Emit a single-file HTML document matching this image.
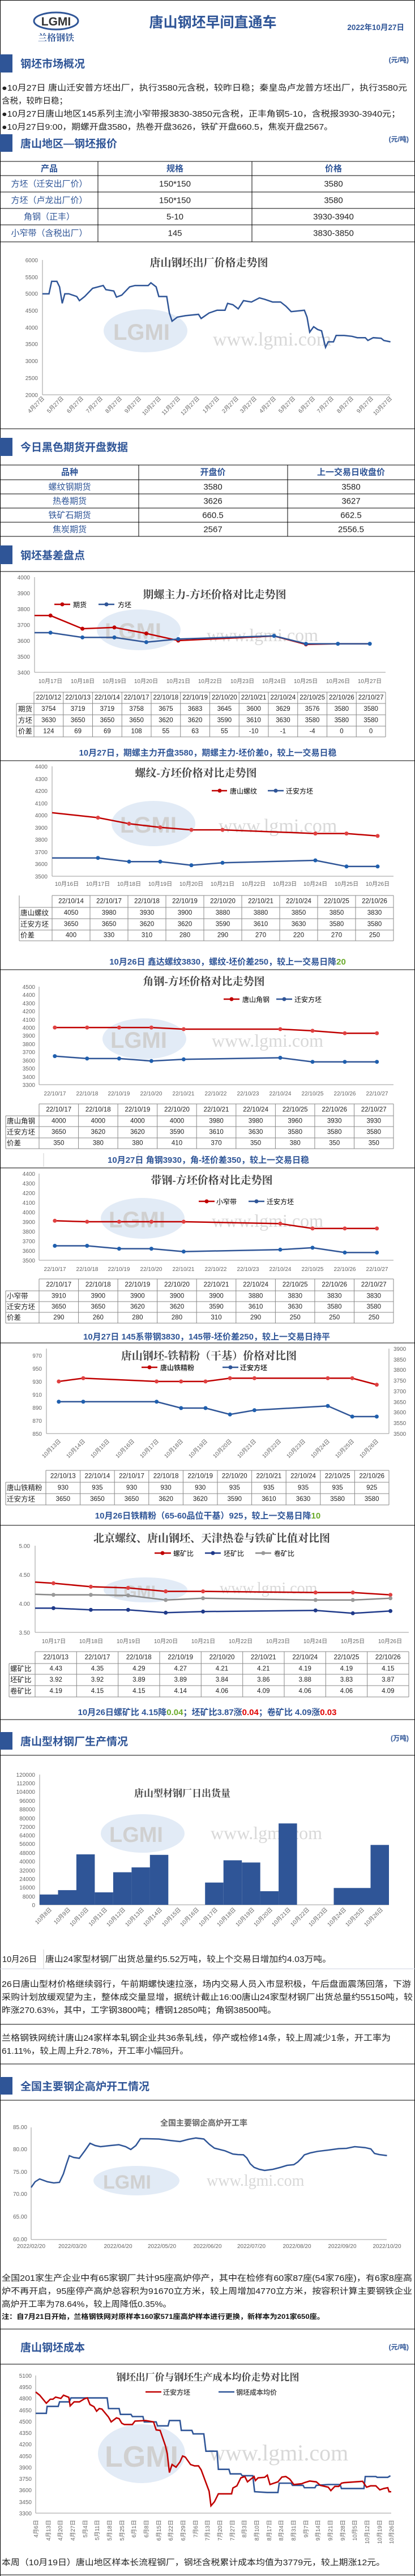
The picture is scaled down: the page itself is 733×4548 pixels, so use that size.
<!DOCTYPE html>
<html><head><meta charset="utf-8"><style>
html,body{margin:0;padding:0;background:#fff}
svg{display:block;font-family:"Liberation Sans","Noto Sans CJK SC",sans-serif}
.ti{font-family:"Liberation Serif","Noto Serif CJK SC",serif;font-weight:bold;fill:#444;text-anchor:middle}
.ax{font-size:10px;fill:#666}
.r{text-anchor:end}
.m{text-anchor:middle}
.tb{font-size:11.5px;fill:#222;text-anchor:middle;dominant-baseline:central}
.tl{font-size:12.5px;fill:#222;dominant-baseline:central}
.sec{font-size:19px;font-weight:bold;fill:#2f5597}
.unit{font-size:12px;font-weight:bold;fill:#2f5597;text-anchor:end}
.sum{font-size:15px;font-weight:bold;fill:#2f5597;text-anchor:middle}
.p{font-size:14.5px;fill:#222}
.g{stroke:#888;stroke-width:1;fill:none}
.tl2{stroke:#999;stroke-width:1}
.rl{fill:none;stroke:#c00000;stroke-width:2.5}
.bl{fill:none;stroke:#2f5597;stroke-width:2.5}
.wm{fill:#d8d8d8;font-family:"Liberation Serif",serif}
.we{fill:#e2ebf6}
.wl{fill:#d0d0d0;font-weight:bold}
</style></head><body>
<svg width="733" height="4548" viewBox="0 0 733 4548" xmlns="http://www.w3.org/2000/svg">
<rect width="733" height="4548" fill="#fff"/>
<g stroke="#000" stroke-width="1">
<line x1="0.5" y1="0" x2="0.5" y2="4548"/><line x1="732.5" y1="0" x2="732.5" y2="4548"/>
<line x1="0" y1="0.5" x2="733" y2="0.5"/>
<line x1="0" y1="757" x2="733" y2="757"/>
<line x1="0" y1="1009" x2="733" y2="1009"/>
<line x1="0" y1="1343" x2="733" y2="1343"/>
<line x1="0" y1="1712" x2="733" y2="1712"/>
<line x1="0" y1="2062" x2="733" y2="2062"/>
<line x1="0" y1="2371" x2="733" y2="2371"/>
<line x1="0" y1="2693" x2="733" y2="2693"/>
<line x1="0" y1="3036" x2="733" y2="3036"/>
<line x1="0" y1="3099" x2="733" y2="3099"/>
<line x1="0" y1="3574" x2="733" y2="3574"/>
<line x1="0" y1="3644" x2="733" y2="3644"/>
<line x1="0" y1="3708" x2="733" y2="3708"/>
<line x1="0" y1="4112" x2="733" y2="4112"/>
<line x1="0" y1="4174" x2="733" y2="4174"/>
<line x1="0" y1="4546" x2="733" y2="4546"/>
</g>

<!-- header -->
<ellipse cx="99" cy="37" rx="39" ry="15" fill="none" stroke="#2f5597" stroke-width="3"/>
<text x="99" y="45" font-size="21" font-weight="bold" fill="#333" text-anchor="middle">LGMI</text>
<text x="99" y="72" font-size="16" font-weight="bold" fill="#2f5597" text-anchor="middle" font-family="Noto Serif CJK SC,serif">兰格钢铁</text>
<text x="376" y="48" font-size="25" font-weight="bold" fill="#2f5597" text-anchor="middle">唐山钢坯早间直通车</text>
<text x="714" y="53" font-size="13.5" font-weight="bold" fill="#2f5597" text-anchor="end">2022年10月27日</text>

<rect x="0" y="96" width="22" height="32" fill="#2f5597"/>
<text class="sec" x="36" y="119">钢坯市场概况</text><text class="unit" x="722" y="110">(元/吨)</text>
<text class="p" x="3" y="160" textLength="716" lengthAdjust="spacingAndGlyphs">●10月27日 唐山迁安普方坯出厂，执行3580元含税，较昨日稳；秦皇岛卢龙普方坯出厂，执行3580元</text>
<text class="p" x="3" y="183">含税，较昨日稳；</text>
<text class="p" x="3" y="206" textLength="704" lengthAdjust="spacingAndGlyphs">●10月27日唐山地区145系列主流小窄带报3830-3850元含税，正丰角钢5-10，含税报3930-3940元；</text>
<text class="p" x="3" y="229" textLength="585" lengthAdjust="spacingAndGlyphs">●10月27日9:00，期螺开盘3580，热卷开盘3626，铁矿开盘660.5，焦炭开盘2567。</text>
<rect x="0" y="237" width="22" height="31" fill="#2f5597"/>
<text class="sec" x="36" y="260">唐山地区—钢坯报价</text><text class="unit" x="722" y="250">(元/吨)</text>

<g stroke="#000" stroke-width="1">
<line x1="0" y1="285" x2="733" y2="285"/><line x1="0" y1="310" x2="733" y2="310"/><line x1="0" y1="339" x2="733" y2="339"/><line x1="0" y1="368" x2="733" y2="368"/><line x1="0" y1="397" x2="733" y2="397"/><line x1="0" y1="427" x2="733" y2="427"/>
<line x1="173" y1="285" x2="173" y2="427"/><line x1="445" y1="285" x2="445" y2="427"/></g>
<g font-size="15" dominant-baseline="central" text-anchor="middle">
<g font-weight="bold" fill="#2f5597"><text x="87" y="298">产品</text><text x="309" y="298">规格</text><text x="589" y="298">价格</text></g>
<g fill="#2f5597"><text x="87" y="325">方坯（迁安出厂价）</text><text x="87" y="354">方坯（卢龙出厂价）</text><text x="87" y="383">角钢（正丰）</text><text x="87" y="412">小窄带（含税出厂）</text></g>
<g fill="#222"><text x="309" y="325">150*150</text><text x="589" y="325">3580</text><text x="309" y="354">150*150</text><text x="589" y="354">3580</text><text x="309" y="383">5-10</text><text x="589" y="383">3930-3940</text><text x="309" y="412">145</text><text x="589" y="412">3830-3850</text></g></g>

<!-- chart 1 -->
<g class="tl2"><line x1="75" y1="459" x2="75" y2="697"/><line x1="75" y1="697" x2="689" y2="697"/></g>
<g class="ax r"><text x="67" y="463">6000</text><text x="67" y="493">5500</text><text x="67" y="522">5000</text><text x="67" y="552">4500</text><text x="67" y="582">4000</text><text x="67" y="611">3500</text><text x="67" y="641">3000</text><text x="67" y="671">2500</text><text x="67" y="701">2000</text></g>
<ellipse class="we" cx="257" cy="584" rx="74" ry="38"/><text class="wl" x="200" y="600" font-size="40">LGMI</text>
<text class="wm" x="376" y="610" font-size="34">www.lgmi.com</text>
<text class="ti" x="369" y="470" font-size="19">唐山钢坯出厂价格走势图</text>
<polyline class="bl" stroke-width="3" points="74.8,518.7 86.5,518.7 91.2,496.8 100.5,496.8 105.2,506.5 109.9,535.6 114.5,518.7 121.6,518.7 135.6,523.5 140.3,530.8 149.6,523.5 159,513.8 163.6,509 182.3,504.1 187,511.4 201,513.8 205.7,524.5 215,521.1 229,506.5 238.4,504.1 261.8,504.1 266.5,499.3 275.8,506.5 280.5,523.5 294.5,523.5 299.2,552.6 303.9,567.1 313.2,559.9 327.3,557.4 350.6,555 355.3,562.3 369.3,552.6 383.4,547.7 397.4,547.7 402,535.6 411.4,538 420.8,545.3 430.1,530.8 444.1,533.2 458.2,525.9 467.5,528.4 481.5,533.2 495.6,533.2 504.9,540.5 514.3,550.2 537.6,547.7 542.3,559.9 547,586.5 554,576.8 561,581.7 568,584.1 575,613.2 579.7,603.5 589,603.5 593.7,592.3 607.8,592.3 621.8,593.8 631.1,596.2 645.2,596.2 649.8,601.1 659.2,596.2 673.2,597.2 677.9,601.1 689.6,603.5"/>
<g class="ax r" font-size="10">
<text transform="translate(79,704) rotate(-45)">4月27日</text><text transform="translate(113,704) rotate(-45)">5月27日</text><text transform="translate(148,704) rotate(-45)">6月27日</text><text transform="translate(182,704) rotate(-45)">7月27日</text><text transform="translate(216,704) rotate(-45)">8月27日</text><text transform="translate(250,704) rotate(-45)">9月27日</text><text transform="translate(285,704) rotate(-45)">10月27日</text><text transform="translate(319,704) rotate(-45)">11月27日</text><text transform="translate(353,704) rotate(-45)">12月27日</text><text transform="translate(388,704) rotate(-45)">1月27日</text><text transform="translate(422,704) rotate(-45)">2月27日</text><text transform="translate(454,704) rotate(-45)">3月27日</text><text transform="translate(488,704) rotate(-45)">4月27日</text><text transform="translate(522,704) rotate(-45)">5月27日</text><text transform="translate(557,704) rotate(-45)">6月27日</text><text transform="translate(590,704) rotate(-45)">7月27日</text><text transform="translate(625,704) rotate(-45)">8月27日</text><text transform="translate(660,704) rotate(-45)">9月27日</text><text transform="translate(693,704) rotate(-45)">10月27日</text></g>

<rect x="0" y="773" width="22" height="32" fill="#2f5597"/>
<text class="sec" x="36" y="796">今日黑色期货开盘数据</text>
<g stroke="#000"><line x1="0" y1="821" x2="733" y2="821"/><line x1="0" y1="847" x2="733" y2="847"/><line x1="0" y1="872" x2="733" y2="872"/><line x1="0" y1="897" x2="733" y2="897"/><line x1="0" y1="922" x2="733" y2="922"/><line x1="0" y1="947" x2="733" y2="947"/><line x1="245" y1="821" x2="245" y2="947"/><line x1="508" y1="821" x2="508" y2="947"/></g>
<g font-size="15" dominant-baseline="central" text-anchor="middle">
<g font-weight="bold" fill="#2f5597"><text x="123" y="834">品种</text><text x="376" y="834">开盘价</text><text x="620" y="834">上一交易日收盘价</text></g>
<g fill="#2f5597"><text x="123" y="860">螺纹钢期货</text><text x="123" y="885">热卷期货</text><text x="123" y="910">铁矿石期货</text><text x="123" y="935">焦炭期货</text></g>
<g fill="#222"><text x="376" y="860">3580</text><text x="620" y="860">3580</text><text x="376" y="885">3626</text><text x="620" y="885">3627</text><text x="376" y="910">660.5</text><text x="620" y="910">662.5</text><text x="376" y="935">2567</text><text x="620" y="935">2556.5</text></g></g>
<rect x="0" y="963" width="22" height="33" fill="#2f5597"/>
<text class="sec" x="36" y="987">钢坯基差盘点</text>

<!-- chart 2 -->
<g class="tl2"><line x1="61" y1="1019" x2="61" y2="1187"/><line x1="61" y1="1187" x2="681" y2="1187"/></g>
<g class="ax r"><text x="53" y="1023">4000</text><text x="53" y="1051">3900</text><text x="53" y="1079">3800</text><text x="53" y="1107">3700</text><text x="53" y="1135">3600</text><text x="53" y="1163">3500</text><text x="53" y="1191">3400</text></g>
<ellipse class="we" cx="245" cy="1112" rx="74" ry="36"/><text class="wl" x="185" y="1128" font-size="40">LGMI</text>
<text class="wm" x="365" y="1132" font-size="32">www.lgmi.com</text>
<text class="ti" x="379" y="1056" font-size="19">期螺主力-方坯价格对比走势图</text>
<line x1="96" y1="1067" x2="124" y2="1067" stroke="#c00000" stroke-width="2.5"/><circle cx="110" cy="1067" r="3.5" fill="#c00000"/><text x="129" y="1072" font-size="12">期货</text>
<line x1="174" y1="1067" x2="202" y2="1067" stroke="#2f5597" stroke-width="2.5"/><circle cx="188" cy="1067" r="3.5" fill="#2f5597"/><text x="208" y="1072" font-size="12">方坯</text>
<polyline class="rl" points="61,1086.8 89.2,1086.8 145.6,1110 202,1107.8 258.4,1118.4 314.8,1131 484,1122.9 540.4,1137.7 596.8,1136.6 653.2,1136.6"/>
<polyline class="bl" points="61,1117 89.2,1117 145.6,1125.4 202,1125.4 258.4,1133.8 314.8,1128.2 484,1122.6 540.4,1136.6 596.8,1136.6 653.2,1136.6"/>
<g fill="#c00000"><circle cx="89.2" cy="1086.8" r="3.5"/><circle cx="145.6" cy="1110" r="3.5"/><circle cx="202" cy="1107.8" r="3.5"/><circle cx="258.4" cy="1118.4" r="3.5"/><circle cx="314.8" cy="1131" r="3.5"/><circle cx="540.4" cy="1137.7" r="3.5"/></g>
<g fill="#1f5fae"><circle cx="89.2" cy="1117" r="3.5"/><circle cx="145.6" cy="1125.4" r="3.5"/><circle cx="202" cy="1125.4" r="3.5"/><circle cx="258.4" cy="1133.8" r="3.5"/><circle cx="314.8" cy="1128.2" r="3.5"/><circle cx="484" cy="1122.6" r="3.5"/><circle cx="540.4" cy="1136.6" r="3.5"/><circle cx="596.8" cy="1136.6" r="3.5"/><circle cx="653.2" cy="1136.6" r="3.5"/></g>
<g class="ax m" font-size="11"><text x="89" y="1206">10月17日</text><text x="146" y="1206">10月18日</text><text x="202" y="1206">10月19日</text><text x="258" y="1206">10月20日</text><text x="315" y="1206">10月21日</text><text x="371" y="1206">10月22日</text><text x="428" y="1206">10月23日</text><text x="484" y="1206">10月24日</text><text x="540" y="1206">10月25日</text><text x="597" y="1206">10月26日</text><text x="653" y="1206">10月27日</text></g>
<g class="g"><path d="M60 1222H681M29 1242H681M29 1262H681M29 1282H681M29 1301H681M29 1242V1301M60 1222V1301M111.75 1222V1301M163.5 1222V1301M215.25 1222V1301M267 1222V1301M318.75 1222V1301M370.5 1222V1301M422.25 1222V1301M474 1222V1301M525.75 1222V1301M577.5 1222V1301M629.25 1222V1301M681 1222V1301"/></g>
<g class="tb" font-size="11"><text x="85.9" y="1232">22/10/12</text><text x="137.6" y="1232">22/10/13</text><text x="189.4" y="1232">22/10/14</text><text x="241.1" y="1232">22/10/17</text><text x="292.9" y="1232">22/10/18</text><text x="344.6" y="1232">22/10/19</text><text x="396.4" y="1232">22/10/20</text><text x="448.1" y="1232">22/10/21</text><text x="499.9" y="1232">22/10/24</text><text x="551.6" y="1232">22/10/25</text><text x="603.4" y="1232">22/10/26</text><text x="655.1" y="1232">22/10/27</text>
<text x="85.9" y="1252">3754</text><text x="137.6" y="1252">3719</text><text x="189.4" y="1252">3719</text><text x="241.1" y="1252">3758</text><text x="292.9" y="1252">3675</text><text x="344.6" y="1252">3683</text><text x="396.4" y="1252">3645</text><text x="448.1" y="1252">3600</text><text x="499.9" y="1252">3629</text><text x="551.6" y="1252">3576</text><text x="603.4" y="1252">3580</text><text x="655.1" y="1252">3580</text>
<text x="85.9" y="1272">3630</text><text x="137.6" y="1272">3650</text><text x="189.4" y="1272">3650</text><text x="241.1" y="1272">3650</text><text x="292.9" y="1272">3620</text><text x="344.6" y="1272">3620</text><text x="396.4" y="1272">3590</text><text x="448.1" y="1272">3610</text><text x="499.9" y="1272">3630</text><text x="551.6" y="1272">3580</text><text x="603.4" y="1272">3580</text><text x="655.1" y="1272">3580</text>
<text x="85.9" y="1291.5">124</text><text x="137.6" y="1291.5">69</text><text x="189.4" y="1291.5">69</text><text x="241.1" y="1291.5">108</text><text x="292.9" y="1291.5">55</text><text x="344.6" y="1291.5">63</text><text x="396.4" y="1291.5">55</text><text x="448.1" y="1291.5">-10</text><text x="499.9" y="1291.5">-1</text><text x="551.6" y="1291.5">-4</text><text x="603.4" y="1291.5">0</text><text x="655.1" y="1291.5">0</text></g>
<g class="tl"><text x="32" y="1252">期货</text><text x="32" y="1272">方坯</text><text x="32" y="1291.5">价差</text></g>
<text class="sum" x="367" y="1334">10月27日，期螺主力开盘3580，期螺主力-坯价差0，较上一交易日稳</text>

<!-- chart 3 -->
<g class="tl2"><line x1="92" y1="1353" x2="92" y2="1547"/><line x1="92" y1="1547" x2="695" y2="1547"/></g>
<g class="ax r"><text x="84" y="1357">4400</text><text x="84" y="1379">4300</text><text x="84" y="1400">4200</text><text x="84" y="1422">4100</text><text x="84" y="1443">4000</text><text x="84" y="1465">3900</text><text x="84" y="1486">3800</text><text x="84" y="1508">3700</text><text x="84" y="1529">3600</text><text x="84" y="1551">3500</text></g>
<ellipse class="we" cx="271" cy="1454" rx="74" ry="40"/><text class="wl" x="212" y="1470" font-size="40">LGMI</text>
<text class="wm" x="386" y="1469" font-size="34">www.lgmi.com</text>
<text class="ti" x="346" y="1371" font-size="19">螺纹-方坯价格对比走势图</text>
<line x1="374" y1="1396" x2="401" y2="1396" stroke="#c00000" stroke-width="2.5"/><circle cx="388" cy="1396" r="3.5" fill="#c00000"/><text x="406" y="1401" font-size="12">唐山螺纹</text>
<line x1="473" y1="1396" x2="501" y2="1396" stroke="#2f5597" stroke-width="2.5"/><circle cx="487" cy="1396" r="3.5" fill="#2f5597"/><text x="505" y="1401" font-size="12">迁安方坯</text>
<polyline class="rl" points="92,1434.9 173,1443.6 228,1454.3 283,1460.8 338,1465.1 393,1465.1 557,1471.6 612,1471.6 667,1475.9"/>
<polyline class="bl" points="92,1514.7 173,1514.7 228,1521.2 283,1521.2 338,1527.6 393,1523.3 557,1519 612,1529.8 667,1529.8"/>
<g fill="#e04040"><circle cx="173" cy="1443.6" r="3.5"/><circle cx="228" cy="1454.3" r="3.5"/><circle cx="283" cy="1460.8" r="3.5"/><circle cx="338" cy="1465.1" r="3.5"/><circle cx="393" cy="1465.1" r="3.5"/><circle cx="557" cy="1471.6" r="3.5"/><circle cx="612" cy="1471.6" r="3.5"/><circle cx="667" cy="1475.9" r="3.5"/></g>
<g fill="#1f5fae"><circle cx="173" cy="1514.7" r="3.5"/><circle cx="228" cy="1521.2" r="3.5"/><circle cx="283" cy="1521.2" r="3.5"/><circle cx="338" cy="1527.6" r="3.5"/><circle cx="393" cy="1523.3" r="3.5"/><circle cx="557" cy="1519" r="3.5"/><circle cx="612" cy="1529.8" r="3.5"/><circle cx="667" cy="1529.8" r="3.5"/></g>
<g class="ax m" font-size="11"><text x="118" y="1564">10月16日</text><text x="173" y="1564">10月17日</text><text x="228" y="1564">10月18日</text><text x="283" y="1564">10月19日</text><text x="338" y="1564">10月20日</text><text x="393" y="1564">10月21日</text><text x="448" y="1564">10月22日</text><text x="503" y="1564">10月23日</text><text x="557" y="1564">10月24日</text><text x="612" y="1564">10月25日</text><text x="667" y="1564">10月26日</text></g>
<g class="g"><path d="M92 1581H695M34 1602H695M34 1622H695M34 1642H695M34 1661H695M34 1581V1661M92 1581V1661M159 1581V1661M226 1581V1661M293 1581V1661M360 1581V1661M427 1581V1661M494 1581V1661M561 1581V1661M628 1581V1661M695 1581V1661"/></g>
<g class="tb"><text x="125.5" y="1591.5">22/10/14</text><text x="192.5" y="1591.5">22/10/17</text><text x="259.5" y="1591.5">22/10/18</text><text x="326.5" y="1591.5">22/10/19</text><text x="393.5" y="1591.5">22/10/20</text><text x="460.5" y="1591.5">22/10/21</text><text x="527.5" y="1591.5">22/10/24</text><text x="594.5" y="1591.5">22/10/25</text><text x="661.5" y="1591.5">22/10/26</text>
<text x="125.5" y="1612">4050</text><text x="192.5" y="1612">3980</text><text x="259.5" y="1612">3930</text><text x="326.5" y="1612">3900</text><text x="393.5" y="1612">3880</text><text x="460.5" y="1612">3880</text><text x="527.5" y="1612">3850</text><text x="594.5" y="1612">3850</text><text x="661.5" y="1612">3830</text>
<text x="125.5" y="1632">3650</text><text x="192.5" y="1632">3650</text><text x="259.5" y="1632">3620</text><text x="326.5" y="1632">3620</text><text x="393.5" y="1632">3590</text><text x="460.5" y="1632">3610</text><text x="527.5" y="1632">3630</text><text x="594.5" y="1632">3580</text><text x="661.5" y="1632">3580</text>
<text x="125.5" y="1651.5">400</text><text x="192.5" y="1651.5">330</text><text x="259.5" y="1651.5">310</text><text x="326.5" y="1651.5">280</text><text x="393.5" y="1651.5">290</text><text x="460.5" y="1651.5">270</text><text x="527.5" y="1651.5">220</text><text x="594.5" y="1651.5">270</text><text x="661.5" y="1651.5">250</text></g>
<g class="tl"><text x="36" y="1612">唐山螺纹</text><text x="36" y="1632">迁安方坯</text><text x="36" y="1651.5">价差</text></g>
<text class="sum" x="402" y="1703">10月26日 鑫达螺纹3830，螺纹-坯价差250，较上一交易日降<tspan fill="#6aaa2a">20</tspan></text>

<!-- chart 4 -->
<text class="ti" x="360" y="1739" font-size="19">角钢-方坯价格对比走势图</text>
<g class="tl2"><line x1="69" y1="1742" x2="69" y2="1915"/><line x1="69" y1="1915" x2="695" y2="1915"/></g>
<g class="ax r"><text x="62" y="1746">4500</text><text x="62" y="1760">4400</text><text x="62" y="1775">4300</text><text x="62" y="1789">4200</text><text x="62" y="1804">4100</text><text x="62" y="1818">4000</text><text x="62" y="1832">3900</text><text x="62" y="1847">3800</text><text x="62" y="1861">3700</text><text x="62" y="1876">3600</text><text x="62" y="1890">3500</text><text x="62" y="1905">3400</text><text x="62" y="1919">3300</text></g>
<ellipse class="we" cx="255" cy="1834" rx="74" ry="36"/><text class="wl" x="195" y="1850" font-size="40">LGMI</text>
<text class="wm" x="374" y="1848" font-size="32">www.lgmi.com</text>
<line x1="395" y1="1764" x2="423" y2="1764" stroke="#c00000" stroke-width="2.5"/><circle cx="409" cy="1764" r="3.5" fill="#c00000"/><text x="428" y="1769" font-size="12">唐山角钢</text>
<line x1="488" y1="1764" x2="516" y2="1764" stroke="#2f5597" stroke-width="2.5"/><circle cx="502" cy="1764" r="3.5" fill="#2f5597"/><text x="520" y="1769" font-size="12">迁安方坯</text>
<polyline class="rl" points="96.8,1814.1 153.8,1814.1 210.4,1814.1 267.4,1814.1 324.4,1817 495,1817 552,1819.9 609,1824.2 665.7,1824.2"/>
<polyline class="bl" points="96.8,1864.6 153.8,1868.9 210.4,1868.9 267.4,1873.2 324.4,1870.3 495,1867.5 552,1874.7 609,1874.7 665.7,1874.7"/>
<g fill="#e04040"><circle cx="96.8" cy="1814.1" r="3.5"/><circle cx="153.8" cy="1814.1" r="3.5"/><circle cx="210.4" cy="1814.1" r="3.5"/><circle cx="267.4" cy="1814.1" r="3.5"/><circle cx="324.4" cy="1817" r="3.5"/><circle cx="495" cy="1817" r="3.5"/><circle cx="552" cy="1819.9" r="3.5"/><circle cx="609" cy="1824.2" r="3.5"/><circle cx="665.7" cy="1824.2" r="3.5"/></g>
<g fill="#1f5fae"><circle cx="96.8" cy="1864.6" r="3.5"/><circle cx="153.8" cy="1868.9" r="3.5"/><circle cx="210.4" cy="1868.9" r="3.5"/><circle cx="267.4" cy="1873.2" r="3.5"/><circle cx="324.4" cy="1870.3" r="3.5"/><circle cx="495" cy="1867.5" r="3.5"/><circle cx="552" cy="1874.7" r="3.5"/><circle cx="609" cy="1874.7" r="3.5"/><circle cx="665.7" cy="1874.7" r="3.5"/></g>
<g class="ax m" font-size="11"><text x="97" y="1934">22/10/17</text><text x="154" y="1934">22/10/18</text><text x="210" y="1934">22/10/19</text><text x="267" y="1934">22/10/20</text><text x="324" y="1934">22/10/21</text><text x="381" y="1934">22/10/22</text><text x="438" y="1934">22/10/23</text><text x="495" y="1934">22/10/24</text><text x="552" y="1934">22/10/25</text><text x="609" y="1934">22/10/26</text><text x="666" y="1934">22/10/27</text></g>
<g class="g"><path d="M69 1949H695M10 1970H695M10 1989H695M10 2009H695M10 2028H695M10 1970V2028M69 1949V2028M138.6 1949V2028M208.1 1949V2028M277.7 1949V2028M347.2 1949V2028M416.8 1949V2028M486.4 1949V2028M555.9 1949V2028M625.5 1949V2028M695 1949V2028"/></g>
<g class="tb"><text x="103.8" y="1959.5">22/10/17</text><text x="173.3" y="1959.5">22/10/18</text><text x="242.9" y="1959.5">22/10/19</text><text x="312.5" y="1959.5">22/10/20</text><text x="382" y="1959.5">22/10/21</text><text x="451.6" y="1959.5">22/10/24</text><text x="521.2" y="1959.5">22/10/25</text><text x="590.7" y="1959.5">22/10/26</text><text x="660.3" y="1959.5">22/10/27</text>
<text x="103.8" y="1979.5">4000</text><text x="173.3" y="1979.5">4000</text><text x="242.9" y="1979.5">4000</text><text x="312.5" y="1979.5">4000</text><text x="382" y="1979.5">3980</text><text x="451.6" y="1979.5">3980</text><text x="521.2" y="1979.5">3960</text><text x="590.7" y="1979.5">3930</text><text x="660.3" y="1979.5">3930</text>
<text x="103.8" y="1999">3650</text><text x="173.3" y="1999">3620</text><text x="242.9" y="1999">3620</text><text x="312.5" y="1999">3590</text><text x="382" y="1999">3610</text><text x="451.6" y="1999">3630</text><text x="521.2" y="1999">3580</text><text x="590.7" y="1999">3580</text><text x="660.3" y="1999">3580</text>
<text x="103.8" y="2018.5">350</text><text x="173.3" y="2018.5">380</text><text x="242.9" y="2018.5">380</text><text x="312.5" y="2018.5">410</text><text x="382" y="2018.5">370</text><text x="451.6" y="2018.5">350</text><text x="521.2" y="2018.5">380</text><text x="590.7" y="2018.5">350</text><text x="660.3" y="2018.5">350</text></g>
<g class="tl"><text x="12" y="1979.5">唐山角钢</text><text x="12" y="1999">迁安方坯</text><text x="12" y="2018.5">价差</text></g>
<line x1="77" y1="2036" x2="77" y2="2060" stroke="#ccc"/><line x1="244" y1="2036" x2="244" y2="2060" stroke="#ccc"/>
<text class="sum" x="368" y="2053">10月27日  角钢3930，角-坯价差350，较上一交易日稳</text>

<!-- chart 5 -->
<text class="ti" x="374" y="2090" font-size="19">带钢-方坯价格对比走势图</text>
<g class="tl2"><line x1="69" y1="2072" x2="69" y2="2225"/><line x1="69" y1="2225" x2="695" y2="2225"/></g>
<g class="ax r"><text x="62" y="2076">4400</text><text x="62" y="2093">4300</text><text x="62" y="2110">4200</text><text x="62" y="2127">4100</text><text x="62" y="2144">4000</text><text x="62" y="2161">3900</text><text x="62" y="2178">3800</text><text x="62" y="2195">3700</text><text x="62" y="2212">3600</text><text x="62" y="2229">3500</text></g>
<ellipse class="we" cx="252" cy="2151" rx="74" ry="36"/><text class="wl" x="192" y="2167" font-size="40">LGMI</text>
<text class="wm" x="374" y="2166" font-size="32">www.lgmi.com</text>
<line x1="351" y1="2121" x2="379" y2="2121" stroke="#c00000" stroke-width="2.5"/><circle cx="365" cy="2121" r="3.5" fill="#c00000"/><text x="382" y="2126" font-size="12">小窄带</text>
<line x1="439" y1="2121" x2="467" y2="2121" stroke="#2f5597" stroke-width="2.5"/><circle cx="453" cy="2121" r="3.5" fill="#2f5597"/><text x="471" y="2126" font-size="12">迁安方坯</text>
<polyline class="rl" points="96.8,2155.3 153.8,2157 210.4,2157 267.4,2157 324.4,2157 495,2160.4 552,2168.9 609,2168.9 665.7,2168.9"/>
<polyline class="bl" points="96.8,2199.5 153.8,2199.5 210.4,2204.6 267.4,2204.6 324.4,2209.7 495,2206.3 552,2202.9 609,2211.4 665.7,2211.4"/>
<g fill="#e04040"><circle cx="96.8" cy="2155.3" r="3.5"/><circle cx="153.8" cy="2157" r="3.5"/><circle cx="210.4" cy="2157" r="3.5"/><circle cx="267.4" cy="2157" r="3.5"/><circle cx="324.4" cy="2157" r="3.5"/><circle cx="495" cy="2160.4" r="3.5"/><circle cx="552" cy="2168.9" r="3.5"/><circle cx="609" cy="2168.9" r="3.5"/><circle cx="665.7" cy="2168.9" r="3.5"/></g>
<g fill="#1f5fae"><circle cx="96.8" cy="2199.5" r="3.5"/><circle cx="153.8" cy="2199.5" r="3.5"/><circle cx="210.4" cy="2204.6" r="3.5"/><circle cx="267.4" cy="2204.6" r="3.5"/><circle cx="324.4" cy="2209.7" r="3.5"/><circle cx="495" cy="2206.3" r="3.5"/><circle cx="552" cy="2202.9" r="3.5"/><circle cx="609" cy="2211.4" r="3.5"/><circle cx="665.7" cy="2211.4" r="3.5"/></g>
<g class="ax m" font-size="11"><text x="97" y="2244">22/10/17</text><text x="154" y="2244">22/10/18</text><text x="210" y="2244">22/10/19</text><text x="267" y="2244">22/10/20</text><text x="324" y="2244">22/10/21</text><text x="381" y="2244">22/10/22</text><text x="438" y="2244">22/10/23</text><text x="495" y="2244">22/10/24</text><text x="552" y="2244">22/10/25</text><text x="609" y="2244">22/10/26</text><text x="666" y="2244">22/10/27</text></g>
<g class="g"><path d="M69 2258H695M10 2279H695M10 2298H695M10 2317H695M10 2336H695M10 2279V2336M69 2258V2336M138.6 2258V2336M208.1 2258V2336M277.7 2258V2336M347.2 2258V2336M416.8 2258V2336M486.4 2258V2336M555.9 2258V2336M625.5 2258V2336M695 2258V2336"/></g>
<g class="tb"><text x="103.8" y="2268.5">22/10/17</text><text x="173.3" y="2268.5">22/10/18</text><text x="242.9" y="2268.5">22/10/19</text><text x="312.5" y="2268.5">22/10/20</text><text x="382" y="2268.5">22/10/21</text><text x="451.6" y="2268.5">22/10/24</text><text x="521.2" y="2268.5">22/10/25</text><text x="590.7" y="2268.5">22/10/26</text><text x="660.3" y="2268.5">22/10/27</text>
<text x="103.8" y="2288.5">3910</text><text x="173.3" y="2288.5">3900</text><text x="242.9" y="2288.5">3900</text><text x="312.5" y="2288.5">3900</text><text x="382" y="2288.5">3900</text><text x="451.6" y="2288.5">3880</text><text x="521.2" y="2288.5">3830</text><text x="590.7" y="2288.5">3830</text><text x="660.3" y="2288.5">3830</text>
<text x="103.8" y="2307.5">3650</text><text x="173.3" y="2307.5">3650</text><text x="242.9" y="2307.5">3620</text><text x="312.5" y="2307.5">3620</text><text x="382" y="2307.5">3590</text><text x="451.6" y="2307.5">3610</text><text x="521.2" y="2307.5">3630</text><text x="590.7" y="2307.5">3580</text><text x="660.3" y="2307.5">3580</text>
<text x="103.8" y="2326.5">290</text><text x="173.3" y="2326.5">260</text><text x="242.9" y="2326.5">280</text><text x="312.5" y="2326.5">280</text><text x="382" y="2326.5">310</text><text x="451.6" y="2326.5">290</text><text x="521.2" y="2326.5">250</text><text x="590.7" y="2326.5">250</text><text x="660.3" y="2326.5">250</text></g>
<g class="tl"><text x="12" y="2288.5">小窄带</text><text x="12" y="2307.5">迁安方坯</text><text x="12" y="2326.5">价差</text></g>
<text class="sum" x="365" y="2365">10月27日 145系带钢3830，145带-坯价差250，较上一交易日持平</text>

<!-- chart 6 -->
<text class="ti" x="369" y="2400" font-size="19">唐山钢坯-铁精粉（干基）价格对比图</text>
<g class="tl2"><line x1="82" y1="2381" x2="82" y2="2531"/><line x1="82" y1="2531" x2="687" y2="2531"/><line x1="687" y1="2381" x2="687" y2="2531"/></g>
<g class="ax r"><text x="74" y="2397">970</text><text x="74" y="2420">950</text><text x="74" y="2443">930</text><text x="74" y="2466">910</text><text x="74" y="2489">890</text><text x="74" y="2512">870</text><text x="74" y="2535">850</text></g>
<g class="ax"><text x="695" y="2385">3900</text><text x="695" y="2404">3850</text><text x="695" y="2422">3800</text><text x="695" y="2441">3750</text><text x="695" y="2460">3700</text><text x="695" y="2479">3650</text><text x="695" y="2497">3600</text><text x="695" y="2516">3550</text><text x="695" y="2535">3500</text></g>
<line x1="250" y1="2414" x2="278" y2="2414" stroke="#c00000" stroke-width="2.5"/><circle cx="264" cy="2414" r="3.5" fill="#c00000"/><text x="283" y="2419" font-size="12" font-weight="bold" fill="#333">唐山铁精粉</text>
<line x1="393" y1="2414" x2="421" y2="2414" stroke="#2f5597" stroke-width="2.5"/><circle cx="407" cy="2414" r="3.5" fill="#2f5597"/><text x="424" y="2419" font-size="12" font-weight="bold" fill="#333">迁安方坯</text>
<polyline class="rl" points="103.8,2439 147,2433.25 276.6,2439 319.8,2439 363,2439 406.2,2433.25 449.4,2433.25 579,2433.25 622.2,2433.25 665.4,2444.75"/>
<polyline class="bl" points="103.8,2474.75 147,2474.75 276.6,2474.75 319.8,2486 363,2486 406.2,2497.25 449.4,2489.75 579,2482.25 622.2,2501 665.4,2501"/>
<g fill="#e04040"><circle cx="103.8" cy="2439" r="3.5"/><circle cx="147" cy="2433.25" r="3.5"/><circle cx="276.6" cy="2439" r="3.5"/><circle cx="319.8" cy="2439" r="3.5"/><circle cx="363" cy="2439" r="3.5"/><circle cx="406.2" cy="2433.25" r="3.5"/><circle cx="449.4" cy="2433.25" r="3.5"/><circle cx="579" cy="2433.25" r="3.5"/><circle cx="622.2" cy="2433.25" r="3.5"/><circle cx="665.4" cy="2444.75" r="3.5"/></g>
<g fill="#1f5fae"><circle cx="103.8" cy="2474.75" r="3.5"/><circle cx="147" cy="2474.75" r="3.5"/><circle cx="276.6" cy="2474.75" r="3.5"/><circle cx="319.8" cy="2486" r="3.5"/><circle cx="363" cy="2486" r="3.5"/><circle cx="406.2" cy="2497.25" r="3.5"/><circle cx="449.4" cy="2489.75" r="3.5"/><circle cx="579" cy="2482.25" r="3.5"/><circle cx="622.2" cy="2501" r="3.5"/><circle cx="665.4" cy="2501" r="3.5"/></g>
<g class="ax r" font-size="10"><text transform="translate(108,2545) rotate(-45)">10月13日</text><text transform="translate(151,2545) rotate(-45)">10月14日</text><text transform="translate(194,2545) rotate(-45)">10月15日</text><text transform="translate(238,2545) rotate(-45)">10月16日</text><text transform="translate(281,2545) rotate(-45)">10月17日</text><text transform="translate(324,2545) rotate(-45)">10月18日</text><text transform="translate(367,2545) rotate(-45)">10月19日</text><text transform="translate(410,2545) rotate(-45)">10月20日</text><text transform="translate(453,2545) rotate(-45)">10月21日</text><text transform="translate(497,2545) rotate(-45)">10月22日</text><text transform="translate(540,2545) rotate(-45)">10月23日</text><text transform="translate(583,2545) rotate(-45)">10月24日</text><text transform="translate(626,2545) rotate(-45)">10月25日</text><text transform="translate(669,2545) rotate(-45)">10月26日</text></g>
<g class="g"><path d="M81 2596H687M10 2617H687M10 2637H687M10 2657H687M10 2617V2657M81 2596V2657M141.6 2596V2657M202.2 2596V2657M262.8 2596V2657M323.4 2596V2657M384 2596V2657M444.6 2596V2657M505.2 2596V2657M565.8 2596V2657M626.4 2596V2657M687 2596V2657"/></g>
<g class="tb"><text x="111.3" y="2606.5">22/10/13</text><text x="171.9" y="2606.5">22/10/14</text><text x="232.5" y="2606.5">22/10/17</text><text x="293.1" y="2606.5">22/10/18</text><text x="353.7" y="2606.5">22/10/19</text><text x="414.3" y="2606.5">22/10/20</text><text x="474.9" y="2606.5">22/10/21</text><text x="535.5" y="2606.5">22/10/24</text><text x="596.1" y="2606.5">22/10/25</text><text x="656.7" y="2606.5">22/10/26</text>
<text x="111.3" y="2627">930</text><text x="171.9" y="2627">935</text><text x="232.5" y="2627">930</text><text x="293.1" y="2627">930</text><text x="353.7" y="2627">930</text><text x="414.3" y="2627">935</text><text x="474.9" y="2627">935</text><text x="535.5" y="2627">935</text><text x="596.1" y="2627">935</text><text x="656.7" y="2627">925</text>
<text x="111.3" y="2647">3650</text><text x="171.9" y="2647">3650</text><text x="232.5" y="2647">3650</text><text x="293.1" y="2647">3620</text><text x="353.7" y="2647">3620</text><text x="414.3" y="2647">3590</text><text x="474.9" y="2647">3610</text><text x="535.5" y="2647">3630</text><text x="596.1" y="2647">3580</text><text x="656.7" y="2647">3580</text></g>
<g class="tl"><text x="12" y="2627">唐山铁精粉</text><text x="12" y="2647">迁安方坯</text></g>
<text class="sum" x="367" y="2681">10月26日铁精粉（65-60品位干基）925，较上一交易日降<tspan fill="#6aaa2a">10</tspan></text>

<!-- chart 7 -->
<text class="ti" x="374" y="2722" font-size="19">北京螺纹、唐山钢坯、天津热卷与铁矿比值对比图</text>
<g class="tl2"><line x1="62" y1="2729" x2="62" y2="2882"/><line x1="62" y1="2882" x2="722" y2="2882"/></g>
<g class="ax r"><text x="53" y="2733">5.00</text><text x="53" y="2784">4.50</text><text x="53" y="2835">4.00</text><text x="53" y="2886">3.50</text></g>
<ellipse class="we" cx="257" cy="2807" rx="74" ry="22"/><text class="wl" x="200" y="2820" font-size="30">LGMI</text>
<text class="wm" x="388" y="2813" font-size="28">www.lgmi.com</text>
<line x1="273" y1="2742" x2="302" y2="2742" stroke="#c00000" stroke-width="2.5"/><circle cx="287" cy="2742" r="3.5" fill="#c00000"/><text x="306" y="2747" font-size="12">螺矿比</text>
<line x1="362" y1="2742" x2="390" y2="2742" stroke="#1f3a8a" stroke-width="2.5"/><circle cx="376" cy="2742" r="3.5" fill="#1f3a8a"/><text x="395" y="2747" font-size="12">坯矿比</text>
<line x1="451" y1="2742" x2="479" y2="2742" stroke="#888" stroke-width="2.5"/><circle cx="465" cy="2742" r="3.5" fill="#999"/><text x="484" y="2747" font-size="12">卷矿比</text>
<polyline class="rl" points="62,2793.3 94.4,2795.3 160.4,2801.4 226.3,2803.5 292.7,2809.6 358.6,2809.6 557.3,2811.6 623.2,2811.6 689.6,2815.7"/>
<polyline fill="none" stroke="#888" stroke-width="2.5" points="62,2814.7 94.4,2815.7 160.4,2815.7 226.3,2816.7 292.7,2824.9 358.6,2821.8 557.3,2824.9 623.2,2824.9 689.6,2821.8"/>
<polyline fill="none" stroke="#1f3a8a" stroke-width="2.5" points="62,2839.2 94.4,2839.2 160.4,2842.2 226.3,2842.2 292.7,2847.3 358.6,2845.3 557.3,2843.2 623.2,2848.3 689.6,2844.3"/>
<g fill="#e04040"><circle cx="94.4" cy="2795.3" r="3.5"/><circle cx="160.4" cy="2801.4" r="3.5"/><circle cx="226.3" cy="2803.5" r="3.5"/><circle cx="292.7" cy="2809.6" r="3.5"/><circle cx="358.6" cy="2809.6" r="3.5"/><circle cx="557.3" cy="2811.6" r="3.5"/><circle cx="623.2" cy="2811.6" r="3.5"/><circle cx="689.6" cy="2815.7" r="3.5"/></g>
<g fill="#999"><circle cx="94.4" cy="2815.7" r="3.5"/><circle cx="160.4" cy="2815.7" r="3.5"/><circle cx="226.3" cy="2816.7" r="3.5"/><circle cx="292.7" cy="2824.9" r="3.5"/><circle cx="358.6" cy="2821.8" r="3.5"/><circle cx="557.3" cy="2824.9" r="3.5"/><circle cx="623.2" cy="2824.9" r="3.5"/><circle cx="689.6" cy="2821.8" r="3.5"/></g>
<g fill="#1f3a8a"><circle cx="94.4" cy="2839.2" r="3.5"/><circle cx="160.4" cy="2842.2" r="3.5"/><circle cx="226.3" cy="2842.2" r="3.5"/><circle cx="292.7" cy="2847.3" r="3.5"/><circle cx="358.6" cy="2845.3" r="3.5"/><circle cx="557.3" cy="2843.2" r="3.5"/><circle cx="623.2" cy="2848.3" r="3.5"/><circle cx="689.6" cy="2844.3" r="3.5"/></g>
<g class="ax m" font-size="11"><text x="95" y="2901">10月17日</text><text x="161" y="2901">10月18日</text><text x="227" y="2901">10月19日</text><text x="293" y="2901">10月20日</text><text x="359" y="2901">10月21日</text><text x="425" y="2901">10月22日</text><text x="491" y="2901">10月23日</text><text x="557" y="2901">10月24日</text><text x="623" y="2901">10月25日</text><text x="689" y="2901">10月26日</text></g>
<g class="g"><path d="M62 2916H722M16 2937H722M16 2956H722M16 2976H722M16 2996H722M16 2937V2996M62 2916V2996M135.3 2916V2996M208.7 2916V2996M282 2916V2996M355.3 2916V2996M428.7 2916V2996M502 2916V2996M575.3 2916V2996M648.7 2916V2996M722 2916V2996"/></g>
<g class="tb"><text x="98.7" y="2926.5">22/10/13</text><text x="172" y="2926.5">22/10/17</text><text x="245.3" y="2926.5">22/10/18</text><text x="318.7" y="2926.5">22/10/19</text><text x="392" y="2926.5">22/10/20</text><text x="465.3" y="2926.5">22/10/21</text><text x="538.7" y="2926.5">22/10/24</text><text x="612" y="2926.5">22/10/25</text><text x="685.3" y="2926.5">22/10/26</text>
<text x="98.7" y="2946.5">4.43</text><text x="172" y="2946.5">4.35</text><text x="245.3" y="2946.5">4.29</text><text x="318.7" y="2946.5">4.27</text><text x="392" y="2946.5">4.21</text><text x="465.3" y="2946.5">4.21</text><text x="538.7" y="2946.5">4.19</text><text x="612" y="2946.5">4.19</text><text x="685.3" y="2946.5">4.15</text>
<text x="98.7" y="2966">3.92</text><text x="172" y="2966">3.92</text><text x="245.3" y="2966">3.89</text><text x="318.7" y="2966">3.89</text><text x="392" y="2966">3.84</text><text x="465.3" y="2966">3.86</text><text x="538.7" y="2966">3.88</text><text x="612" y="2966">3.83</text><text x="685.3" y="2966">3.87</text>
<text x="98.7" y="2986">4.19</text><text x="172" y="2986">4.15</text><text x="245.3" y="2986">4.15</text><text x="318.7" y="2986">4.14</text><text x="392" y="2986">4.06</text><text x="465.3" y="2986">4.09</text><text x="538.7" y="2986">4.06</text><text x="612" y="2986">4.06</text><text x="685.3" y="2986">4.09</text></g>
<g class="tl"><text x="18" y="2946.5">螺矿比</text><text x="18" y="2966">坯矿比</text><text x="18" y="2986">卷矿比</text></g>
<text class="sum" x="366" y="3028">10月26日螺矿比 4.15降<tspan fill="#6aaa2a">0.04</tspan>；坯矿比3.87涨<tspan fill="#e00000">0.04</tspan>；卷矿比 4.09涨<tspan fill="#e00000">0.03</tspan></text>

<rect x="0" y="3058" width="22" height="31" fill="#2f5597"/>
<text class="sec" x="36" y="3081">唐山型材钢厂生产情况</text><text class="unit" x="722" y="3073">(万吨)</text>
<g class="tl2"><line x1="70" y1="3133" x2="70" y2="3363"/><line x1="70" y1="3363" x2="687" y2="3363"/></g>
<g class="ax r"><text x="62" y="3137">120000</text><text x="62" y="3152">112000</text><text x="62" y="3167">104000</text><text x="62" y="3183">96000</text><text x="62" y="3198">88000</text><text x="62" y="3214">80000</text><text x="62" y="3229">72000</text><text x="62" y="3244">64000</text><text x="62" y="3259">56000</text><text x="62" y="3275">48000</text><text x="62" y="3290">40000</text><text x="62" y="3306">32000</text><text x="62" y="3321">24000</text><text x="62" y="3336">16000</text><text x="62" y="3352">8000</text><text x="62" y="3367">0</text></g>
<ellipse class="we" cx="252" cy="3237" rx="74" ry="34"/><text class="wl" x="193" y="3252" font-size="38">LGMI</text>
<text class="wm" x="372" y="3247" font-size="32">www.lgmi.com</text>
<text class="ti" x="322" y="3172" font-size="17">唐山型材钢厂日出货量</text>
<g fill="#2f5597"><rect x="70" y="3344.8" width="32.5" height="18.2"/><rect x="102.5" y="3337.1" width="32.5" height="25.9"/><rect x="134.9" y="3273.9" width="32.5" height="89.1"/><rect x="167.4" y="3341" width="32.5" height="22"/><rect x="199.9" y="3305.5" width="32.5" height="57.5"/><rect x="232.4" y="3296.9" width="32.5" height="66.1"/><rect x="264.8" y="3274.8" width="32.5" height="88.2"/><rect x="362.2" y="3323.7" width="32.5" height="39.3"/><rect x="394.7" y="3284.4" width="32.5" height="78.6"/><rect x="427.2" y="3288.3" width="32.5" height="74.7"/><rect x="459.6" y="3339" width="32.5" height="24"/><rect x="492.1" y="3219.3" width="32.5" height="143.7"/><rect x="589.5" y="3333.3" width="32.5" height="29.7"/><rect x="622" y="3333.3" width="32.5" height="29.7"/><rect x="654.5" y="3257.3" width="32.5" height="105.7"/></g>
<g class="ax r" font-size="9.5"><text transform="translate(92,3372) rotate(-45)">10月8日</text><text transform="translate(125,3372) rotate(-45)">10月9日</text><text transform="translate(157,3372) rotate(-45)">10月10日</text><text transform="translate(190,3372) rotate(-45)">10月11日</text><text transform="translate(222,3372) rotate(-45)">10月12日</text><text transform="translate(255,3372) rotate(-45)">10月13日</text><text transform="translate(287,3372) rotate(-45)">10月14日</text><text transform="translate(320,3372) rotate(-45)">10月15日</text><text transform="translate(352,3372) rotate(-45)">10月16日</text><text transform="translate(385,3372) rotate(-45)">10月17日</text><text transform="translate(417,3372) rotate(-45)">10月18日</text><text transform="translate(450,3372) rotate(-45)">10月19日</text><text transform="translate(482,3372) rotate(-45)">10月20日</text><text transform="translate(514,3372) rotate(-45)">10月21日</text><text transform="translate(547,3372) rotate(-45)">10月22日</text><text transform="translate(579,3372) rotate(-45)">10月23日</text><text transform="translate(612,3372) rotate(-45)">10月24日</text><text transform="translate(644,3372) rotate(-45)">10月25日</text><text transform="translate(677,3372) rotate(-45)">10月26日</text></g>
<text class="p" x="4" y="3464">10月26日</text><line x1="77" y1="3442" x2="77" y2="3476" stroke="#ccc"/>
<text class="p" x="80" y="3464" textLength="505" lengthAdjust="spacingAndGlyphs">唐山24家型材钢厂出货总量约5.52万吨，较上个交易日增加约4.03万吨。</text>
<line x1="0" y1="3476" x2="733" y2="3476" stroke="#ccd3e0"/>
<text class="p" x="3" y="3508" textLength="723" lengthAdjust="spacingAndGlyphs">26日唐山型材价格继续弱行，午前期螺快速拉涨，场内交易人员入市显积极，午后盘面震荡回落，下游</text>
<text class="p" x="3" y="3531" textLength="726" lengthAdjust="spacingAndGlyphs">采购计划放缓观望为主，整体成交量显增，据统计截止16:00唐山24家型材钢厂出货总量约55150吨，较</text>
<text class="p" x="3" y="3554" textLength="485" lengthAdjust="spacingAndGlyphs">昨涨270.63%，其中，工字钢3800吨；槽钢12850吨；角钢38500吨。</text>
<text class="p" x="3" y="3603" textLength="687" lengthAdjust="spacingAndGlyphs">兰格钢铁网统计唐山24家样本轧钢企业共36条轧线，停产或检修14条，较上周减少1条，开工率为</text>
<text class="p" x="3" y="3626" textLength="330" lengthAdjust="spacingAndGlyphs">61.11%，较上周上升2.78%，开工率小幅回升。</text>
<rect x="0" y="3667" width="22" height="31" fill="#2f5597"/>
<text class="sec" x="36" y="3690">全国主要钢企高炉开工情况</text>

<!-- chart 9 -->
<text x="360" y="3753" font-size="14" font-weight="bold" fill="#666" text-anchor="middle">全国主要钢企高炉开工率</text>
<g class="tl2"><line x1="55" y1="3756" x2="55" y2="3954"/><line x1="55" y1="3954" x2="683" y2="3954"/></g>
<g class="ax r" font-size="8"><text x="48" y="3759">85.00</text><text x="48" y="3798">80.00</text><text x="48" y="3838">75.00</text><text x="48" y="3877">70.00</text><text x="48" y="3917">65.00</text><text x="48" y="3957">60.00</text></g>
<ellipse class="we" cx="241" cy="3850" rx="76" ry="26"/><text class="wl" x="182" y="3864" font-size="34">LGMI</text>
<text class="wm" x="365" y="3859" font-size="28">www.lgmi.com</text>
<polyline class="bl" points="55,3862 62,3852 70,3847 84,3852 95,3854 105,3853 112,3838 117,3822 122.5,3806 130,3809 140,3810.5 150,3797 159,3784 168,3788 177.6,3790 195,3788 210,3786.5 222,3790 231,3795 240,3788 248,3776 260,3776 280.5,3776.5 300,3779 318,3781 333,3777 346,3774.7 360,3776.5 370,3786 378.7,3792.6 397.4,3797.3 411.4,3803 420,3804 430,3804.4 436,3810 441.8,3820 448.8,3826.5 458,3830 467.5,3832 482,3830 495.6,3826.5 507,3823 519,3821.8 526,3817 533,3810 537.6,3804.4 548,3801 561,3798.3 580,3796 598.4,3793.5 612,3793 626.5,3790 645,3791.7 655,3794 661.5,3802 670,3804 683.5,3805.8"/>
<g class="ax m" font-size="8"><text x="55" y="3969">2022/02/20</text><text x="128" y="3969">2022/03/20</text><text x="208.5" y="3969">2022/04/20</text><text x="286" y="3969">2022/05/20</text><text x="366.5" y="3969">2022/06/20</text><text x="444" y="3969">2022/07/20</text><text x="524.5" y="3969">2022/08/20</text><text x="604.5" y="3969">2022/09/20</text><text x="683.5" y="3969">2022/10/20</text></g>
<text class="p" x="3" y="4027" textLength="725" lengthAdjust="spacingAndGlyphs">全国201家生产企业中有65家钢厂共计95座高炉停产，其中在检修有60家87座(54家76座)，有6家8座高</text>
<text class="p" x="3" y="4050" textLength="725" lengthAdjust="spacingAndGlyphs">炉不再开启，95座停产高炉总容积为91670立方米，较上周增加4770立方米，按容积计算主要钢铁企业</text>
<text class="p" x="3" y="4073" textLength="300" lengthAdjust="spacingAndGlyphs">高炉开工率为78.64%，较上周降低0.35%。</text>
<text x="3" y="4094" font-size="12" font-weight="bold" fill="#111" textLength="570" lengthAdjust="spacingAndGlyphs">注：自7月21日开始，兰格钢铁网对原样本160家571座高炉样本进行更换，新样本为201家650座。</text>
<text class="sec" x="36" y="4151">唐山钢坯成本</text>
<text class="unit" x="722" y="4148">(元/吨)</text>

<!-- chart 10 -->
<text class="ti" x="367" y="4203" font-size="17" fill="#666">钢坯出厂价与钢坯生产成本均价走势对比图</text>
<g class="tl2"><line x1="63" y1="4194" x2="63" y2="4437"/><line x1="63" y1="4437" x2="691" y2="4437"/></g>
<g class="ax r" font-size="10.5"><text x="56" y="4198">5100</text><text x="56" y="4218">4950</text><text x="56" y="4238">4800</text><text x="56" y="4259">4650</text><text x="56" y="4279">4500</text><text x="56" y="4299">4350</text><text x="56" y="4319">4200</text><text x="56" y="4340">4050</text><text x="56" y="4360">3900</text><text x="56" y="4380">3750</text><text x="56" y="4400">3600</text><text x="56" y="4421">3450</text><text x="56" y="4441">3300</text></g>
<ellipse class="we" cx="250" cy="4332" rx="77" ry="52"/><text class="wl" x="185" y="4355" font-size="52">LGMI</text>
<text class="wm" x="369" y="4344" font-size="40">www.lgmi.com</text>
<line x1="257" y1="4223" x2="285" y2="4223" stroke="#c00000" stroke-width="2.5"/><text x="288" y="4228" font-size="12" font-weight="bold" fill="#555">迁安方坯</text>
<line x1="386" y1="4223" x2="414" y2="4223" stroke="#2f5597" stroke-width="2.5"/><text x="417" y="4228" font-size="12" font-weight="bold" fill="#555">钢坯成本均价</text>
<g transform="translate(0,3810) scale(0.4675,0.4706)">
<polyline fill="none" stroke="#2f5597" stroke-width="5.5" points="135,958 175,958 178,932 220,932 225,915 262,915 268,900 405,900 410,940 450,940 455,962 495,962 500,970 540,970 545,990 590,990 595,1005 635,1005 640,985 680,985 685,1022 725,1022 730,1035 770,1035 778,1100 820,1100 825,1168 865,1168 870,1185 910,1185 915,1192 955,1192 962,1252 1010,1255 1050,1255 1055,1220 1100,1220 1105,1228 1145,1228 1150,1237 1190,1237 1195,1228 1240,1225 1285,1225 1290,1240 1375,1240 1380,1195 1420,1195 1425,1198 1465,1198 1475,1192"/>
<polyline fill="none" stroke="#c00000" stroke-width="5.5" points="135,878 150,890 175,920 190,905 200,905 210,897 230,902 240,890 260,898 265,930 280,915 300,915 320,903 330,900 340,925 355,933 365,950 375,940 385,942 400,960 410,972 420,990 440,975 450,978 460,995 470,1000 500,1000 510,987 550,985 580,990 590,1020 605,1022 625,1080 632,1110 640,1180 650,1150 665,1160 680,1140 690,1118 700,1122 720,1150 735,1155 750,1155 760,1170 790,1250 797,1305 810,1290 825,1260 875,1260 880,1238 895,1230 910,1200 925,1195 935,1215 960,1195 965,1210 975,1200 1000,1198 1010,1190 1020,1225 1050,1215 1065,1197 1080,1195 1095,1205 1110,1225 1140,1222 1150,1218 1170,1212 1195,1215 1210,1228 1240,1235 1250,1248 1265,1232 1280,1232 1290,1220 1300,1218 1370,1213 1385,1235 1400,1230 1420,1230 1435,1245 1450,1240 1465,1237 1470,1252 1478,1252"/>
</g>
<g class="ax r" font-size="10"><text transform="translate(67,4449) rotate(-90)">4月6日</text><text transform="translate(89,4449) rotate(-90)">4月13日</text><text transform="translate(110,4449) rotate(-90)">4月20日</text><text transform="translate(132,4449) rotate(-90)">4月27日</text><text transform="translate(154,4449) rotate(-90)">5月4日</text><text transform="translate(175,4449) rotate(-90)">5月11日</text><text transform="translate(197,4449) rotate(-90)">5月18日</text><text transform="translate(219,4449) rotate(-90)">5月25日</text><text transform="translate(240,4449) rotate(-90)">6月1日</text><text transform="translate(262,4449) rotate(-90)">6月8日</text><text transform="translate(284,4449) rotate(-90)">6月15日</text><text transform="translate(305,4449) rotate(-90)">6月22日</text><text transform="translate(327,4449) rotate(-90)">6月29日</text><text transform="translate(349,4449) rotate(-90)">7月6日</text><text transform="translate(370,4449) rotate(-90)">7月13日</text><text transform="translate(392,4449) rotate(-90)">7月20日</text><text transform="translate(414,4449) rotate(-90)">7月27日</text><text transform="translate(435,4449) rotate(-90)">8月3日</text><text transform="translate(457,4449) rotate(-90)">8月10日</text><text transform="translate(479,4449) rotate(-90)">8月17日</text><text transform="translate(500,4449) rotate(-90)">8月24日</text><text transform="translate(522,4449) rotate(-90)">8月31日</text><text transform="translate(544,4449) rotate(-90)">9月7日</text><text transform="translate(565,4449) rotate(-90)">9月14日</text><text transform="translate(587,4449) rotate(-90)">9月21日</text><text transform="translate(609,4449) rotate(-90)">9月28日</text><text transform="translate(630,4449) rotate(-90)">10月5日</text><text transform="translate(652,4449) rotate(-90)">10月12日</text><text transform="translate(674,4449) rotate(-90)">10月19日</text><text transform="translate(695,4449) rotate(-90)">10月26日</text></g>
<text class="p" x="3" y="4529" textLength="677" lengthAdjust="spacingAndGlyphs">本周（10月19日）唐山地区样本长流程钢厂，钢坯含税累计成本均值为3779元，较上期涨12元。</text>
</svg>
</body></html>
